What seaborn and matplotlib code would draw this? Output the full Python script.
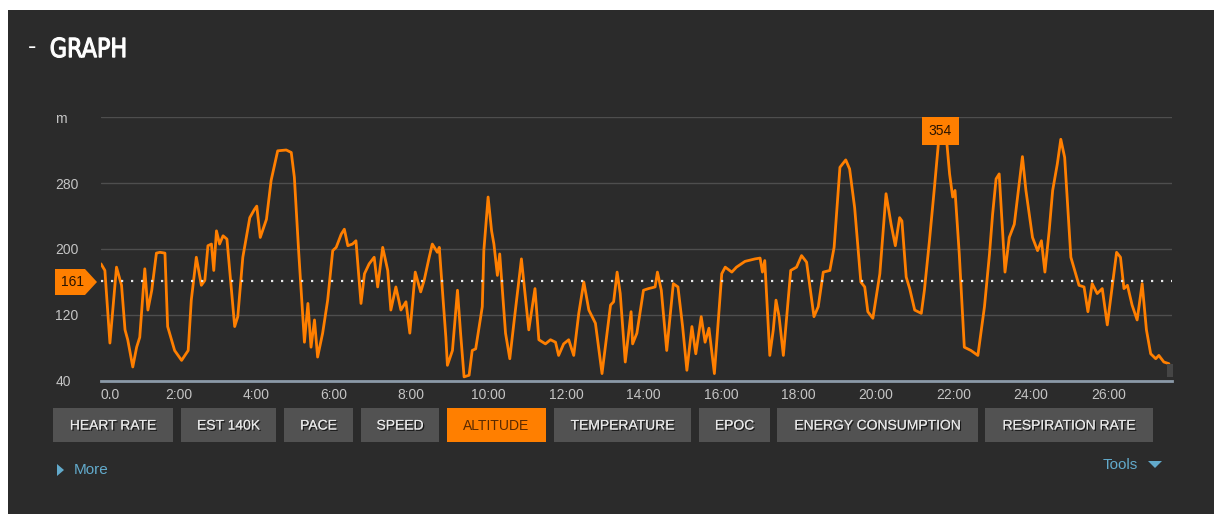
import matplotlib
matplotlib.use("Agg")
import matplotlib.pyplot as plt
import matplotlib.patheffects as pe
import seaborn as sns
from matplotlib.font_manager import FontProperties
from matplotlib.patches import PathPatch, Polygon, Rectangle
from matplotlib.textpath import TextPath
from matplotlib.transforms import Affine2D

# altitude trace (minutes into workout, metres)
minutes = [
    0.00, 0.10, 0.23, 0.40, 0.53, 0.62, 0.69, 0.82, 0.92, 1.00,
    1.13, 1.21, 1.31, 1.43, 1.52, 1.65, 1.72, 1.90, 2.08, 2.25,
    2.33, 2.46, 2.59, 2.68, 2.76, 2.85, 2.91, 2.98, 3.06, 3.15,
    3.25, 3.45, 3.53, 3.66, 3.84, 3.96, 4.02, 4.11, 4.27, 4.39,
    4.56, 4.78, 4.91, 4.99, 5.10, 5.25, 5.34, 5.42, 5.51, 5.59,
    5.72, 5.85, 5.98, 6.07, 6.20, 6.28, 6.37, 6.49, 6.58, 6.71,
    6.80, 6.92, 7.05, 7.14, 7.27, 7.40, 7.48, 7.61, 7.74, 7.87,
    7.97, 8.11, 8.25, 8.34, 8.47, 8.55, 8.68, 8.73, 8.90, 8.94,
    9.07, 9.20, 9.28, 9.37, 9.50, 9.58, 9.67, 9.84, 9.88, 9.99,
    10.08, 10.14, 10.23, 10.29, 10.44, 10.55, 10.66, 10.85, 10.96, 11.04,
    11.20, 11.30, 11.47, 11.60, 11.73, 11.81, 11.94, 12.07, 12.20, 12.33,
    12.46, 12.59, 12.76, 12.93, 13.15, 13.23, 13.32, 13.40, 13.53, 13.68,
    13.72, 13.83, 14.00, 14.13, 14.30, 14.36, 14.46, 14.60, 14.77, 14.89,
    15.01, 15.12, 15.25, 15.35, 15.49, 15.59, 15.69, 15.83, 16.02, 16.11,
    16.28, 16.40, 16.62, 16.88, 17.01, 17.07, 17.13, 17.26, 17.35, 17.42,
    17.50, 17.61, 17.80, 17.95, 18.08, 18.21, 18.40, 18.51, 18.64, 18.81,
    18.92, 19.07, 19.22, 19.32, 19.45, 19.61, 19.71, 19.79, 19.92, 20.10,
    20.26, 20.39, 20.50, 20.61, 20.67, 20.78, 20.87, 21.00, 21.17, 21.25,
    21.38, 21.51, 21.64, 21.70, 21.81, 21.90, 21.98, 22.04, 22.15, 22.28,
    22.45, 22.63, 22.80, 22.93, 23.01, 23.10, 23.18, 23.33, 23.44, 23.57,
    23.70, 23.78, 23.87, 24.04, 24.17, 24.27, 24.36, 24.47, 24.56, 24.68,
    24.77, 24.87, 25.03, 25.24, 25.37, 25.47, 25.58, 25.71, 25.84, 25.97,
    26.21, 26.31, 26.40, 26.49, 26.61, 26.74, 26.87, 26.98, 27.09, 27.22,
    27.30, 27.43, 27.56,
]
altitude = [
    182, 174, 86, 178, 156, 102, 90, 57, 81, 93,
    176, 126, 150, 195, 196, 195, 106, 77, 65, 77,
    138, 190, 156, 162, 204, 206, 174, 222, 206, 216,
    212, 106, 118, 190, 238, 248, 252, 214, 236, 283,
    319, 320, 317, 287, 198, 87, 134, 81, 114, 69,
    98, 138, 198, 202, 218, 224, 204, 206, 210, 134,
    170, 182, 190, 154, 202, 174, 126, 154, 126, 136,
    98, 172, 148, 162, 190, 206, 196, 202, 93, 59,
    77, 150, 98, 45, 47, 77, 79, 130, 198, 263,
    222, 206, 168, 194, 98, 67, 112, 188, 138, 102,
    152, 90, 85, 90, 87, 71, 85, 90, 71, 122,
    160, 126, 110, 49, 132, 136, 172, 146, 63, 124,
    85, 98, 150, 152, 154, 172, 150, 77, 158, 154,
    106, 53, 106, 73, 118, 87, 104, 49, 170, 178,
    172, 178, 185, 188, 189, 172, 186, 71, 102, 138,
    118, 71, 174, 178, 192, 184, 118, 130, 172, 174,
    202, 299, 308, 297, 250, 160, 154, 124, 116, 170,
    267, 230, 204, 238, 234, 166, 152, 126, 122, 150,
    210, 275, 343, 354, 339, 291, 263, 271, 194, 81,
    77, 71, 130, 194, 242, 285, 291, 172, 214, 230,
    281, 312, 271, 214, 198, 210, 172, 222, 271, 303,
    333, 311, 190, 156, 154, 124, 158, 146, 152, 108,
    196, 190, 152, 156, 132, 114, 158, 102, 73, 67,
    71, 63, 61,
]
avg_altitude = 161
max_altitude = 354
y_ticks = [40, 120, 200, 280, 360]
y_labels = ["40", "120", "200", "280", "m"]
x_ticks = list(range(0, 27, 2))
x_labels = ["0.0"] + [f"{m}:00" for m in x_ticks[1:]]
buttons = ["HEART RATE", "EST 140K", "PACE", "SPEED", "ALTITUDE", "TEMPERATURE",
           "EPOC", "ENERGY CONSUMPTION", "RESPIRATION RATE"]
active_button = "ALTITUDE"

W, H = 1214, 514
BG = "#2b2b2b"
ORANGE = "#ff7f00"
LINK = "#62aacb"

sns.set_theme(style="dark")
plt.rcParams["font.family"] = ["Liberation Sans", "DejaVu Sans"]

fig = plt.figure(figsize=(W / 100, H / 100), dpi=100, facecolor="white")


def box(x0, y0, x1, y1):
    # pixel box (top-left origin) -> figure fraction rect
    return (x0 / W, 1 - y1 / H), (x1 - x0) / W, (y1 - y0) / H


def fx(x):
    return x / W


def fy(y):
    return 1 - y / H


# dark panel
xy, w, h = box(8, 10, W, H)
fig.add_artist(Rectangle(xy, w, h, transform=fig.transFigure, facecolor=BG, edgecolor="none", zorder=0))

# title, squeezed into the condensed look of the original
fig.text(fx(28), fy(47), "-", color="white", fontsize=18, va="center", ha="left")
tp = TextPath((0, 0), "GRAPH", size=30, prop=FontProperties(family="DejaVu Sans"))
ext = tp.get_extents()
sx = (125 - 51) / ext.width
sy = (57.5 - 37.5) / ext.height
tr = Affine2D().translate(-ext.x0, -ext.y0).scale(sx, sy).translate(51, H - 57.5)
fig.add_artist(PathPatch(tp, transform=tr, facecolor="white", edgecolor="white", linewidth=0.8, zorder=3))

# chart
ax = fig.add_axes([101 / W, (H - 381) / H, (1172 - 101) / W, (381 - 117) / H])
ax.set_facecolor(BG)
sns.lineplot(x=minutes, y=altitude, color=ORANGE, linewidth=2, ax=ax, zorder=4)
ax.axhline(avg_altitude, color="#e6e6e6", linewidth=1.6, linestyle=(0, (1, 3.5)), zorder=5)

ax.set_xlim(0, 27.64)
ax.set_ylim(40, 360)
ax.set_yticks(y_ticks)
ax.set_yticklabels(y_labels)
ax.set_xticks(x_ticks)
ax.set_xticklabels(x_labels)
ax.grid(False)
ax.yaxis.grid(True, color="#4e4e4e", linewidth=1)
for side in ["top", "right", "left"]:
    ax.spines[side].set_visible(False)
ax.spines["bottom"].set_color("#8b9aa8")
ax.spines["bottom"].set_linewidth(2)
ax.tick_params(axis="y", length=0, pad=33, labelsize=10, labelcolor="#c4c4c4")
ax.tick_params(axis="x", length=0, pad=5, labelsize=10, labelcolor="#c4c4c4")
for lab in ax.get_yticklabels():
    lab.set_ha("left")
ax.get_xticklabels()[0].set_ha("left")
ax.set_xlabel("")
ax.set_ylabel("")

# max label
peak_t = minutes[altitude.index(max_altitude)]
ax.annotate(str(max_altitude), xy=(peak_t, max_altitude), xytext=(-1, -6.5), textcoords="offset points",
            ha="center", va="center", fontsize=10, color="#2a1400", zorder=6,
            bbox=dict(boxstyle="square,pad=0.5", facecolor=ORANGE, edgecolor="none"))

# average marker
yc = 282
fig.add_artist(Polygon([(fx(55), fy(yc - 13)), (fx(85), fy(yc - 13)), (fx(97), fy(yc)),
                        (fx(85), fy(yc + 13)), (fx(55), fy(yc + 13))],
                       closed=True, transform=fig.transFigure, facecolor=ORANGE, edgecolor="none", zorder=6))
fig.text(fx(72), fy(yc), str(avg_altitude), color="#2a1400", fontsize=10, ha="center", va="center", zorder=7)

# scrollbar stub
xy, w, h = box(1167, 364, 1173, 377)
fig.add_artist(Rectangle(xy, w, h, transform=fig.transFigure, facecolor="#454545", edgecolor="none", zorder=6))

# buttons
spans = [(53, 173), (181, 276), (284, 353), (361, 439), (447, 546), (554, 691),
         (699, 770), (777, 978), (985, 1153)]
for label, (x0, x1) in zip(buttons, spans):
    active = label == active_button
    xy, w, h = box(x0, 408, x1, 442)
    fig.add_artist(Rectangle(xy, w, h, transform=fig.transFigure,
                             facecolor=ORANGE if active else "#525252", edgecolor="none", zorder=3))
    fig.text(fx((x0 + x1) / 2), fy(425.5), label, ha="center", va="center", fontsize=10,
             color="#5a2a00" if active else "#e6e6e6", zorder=4,
             path_effects=None if active else [pe.withSimplePatchShadow(offset=(1, -1), shadow_rgbFace="black", alpha=0.7), pe.Normal()])

# links
fig.add_artist(Polygon([(fx(57), fy(464)), (fx(57), fy(476)), (fx(64), fy(470))], closed=True,
                       transform=fig.transFigure, facecolor=LINK, edgecolor="none"))
fig.text(fx(74), fy(470), "More", color=LINK, fontsize=11, ha="left", va="center")
fig.text(fx(1103), fy(465), "Tools", color=LINK, fontsize=11, ha="left", va="center")
fig.add_artist(Polygon([(fx(1148), fy(461)), (fx(1162), fy(461)), (fx(1155), fy(468))], closed=True,
                       transform=fig.transFigure, facecolor=LINK, edgecolor="none"))

fig.savefig("out.png", dpi=100, facecolor=fig.get_facecolor())
